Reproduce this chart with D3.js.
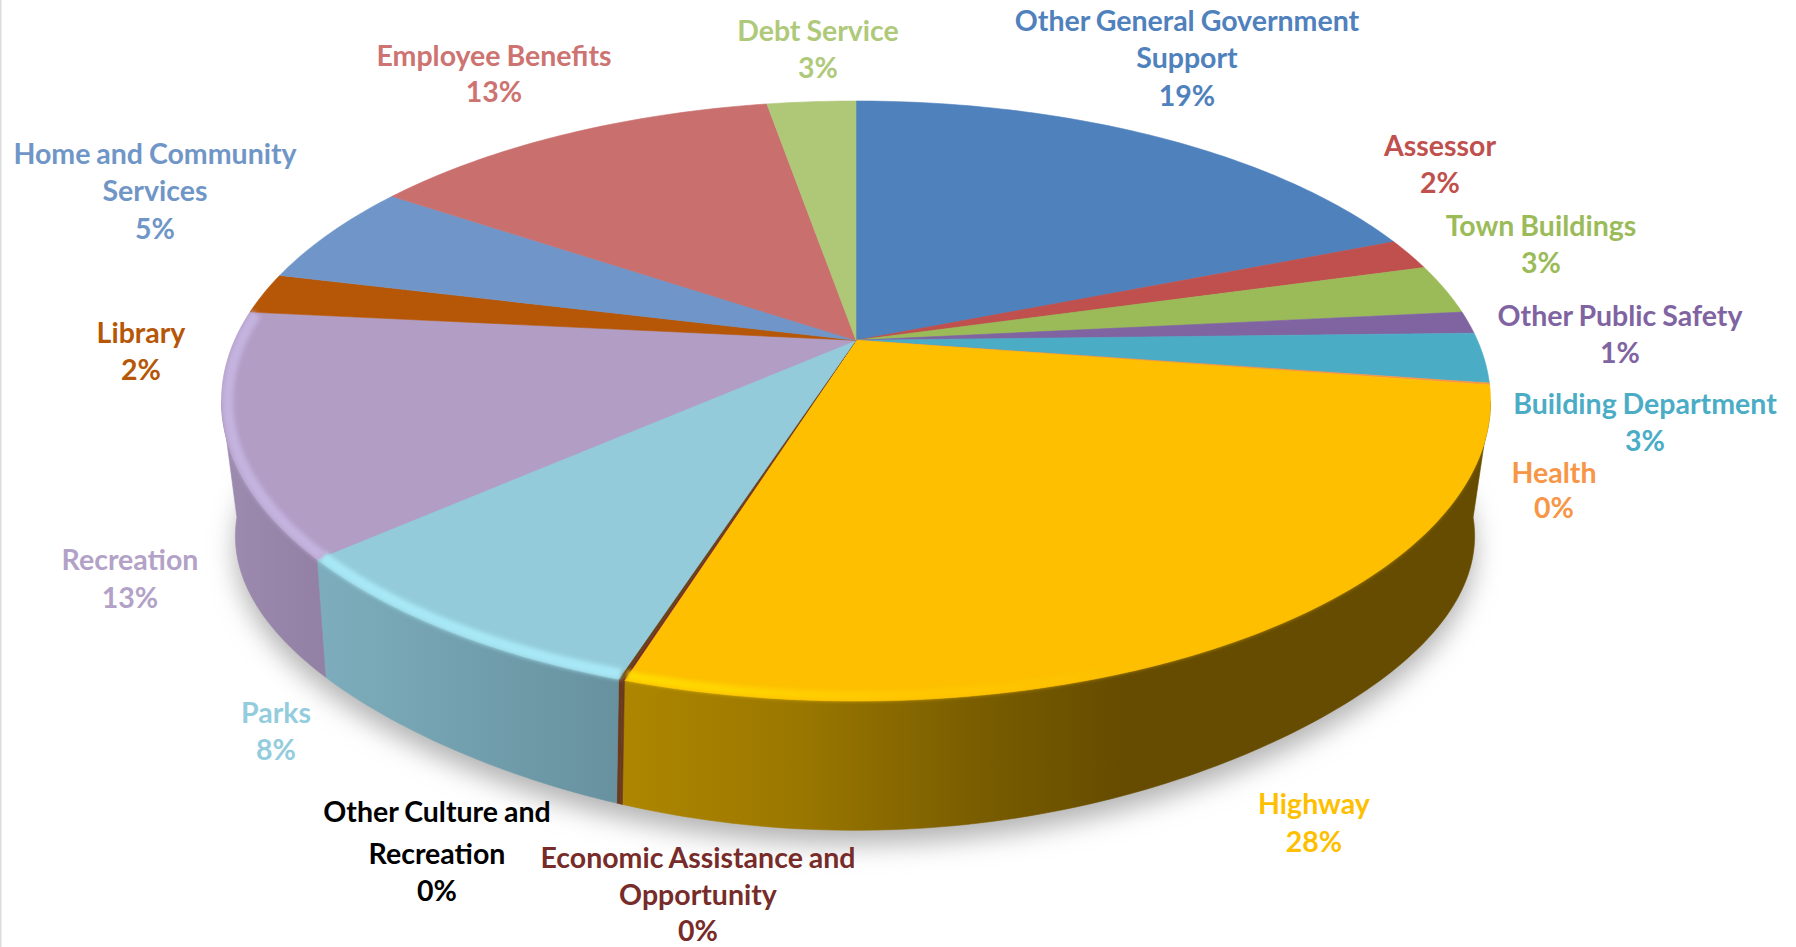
<!DOCTYPE html>
<html>
<head>
<meta charset="utf-8">
<script src="https://cdn.jsdelivr.net/npm/d3@7"></script>
<style>
html, body { margin: 0; padding: 0; background: #fff; }
svg { display: block; }
text { font-family: Lato, "Open Sans", sans-serif; font-weight: 700; }
</style>
</head>
<body>
<script>
let categories = ["Other General Government Support", "Assessor", "Town Buildings", "Other Public Safety",
    "Building Department", "Health", "Highway", "Economic Assistance and Opportunity",
    "Other Culture and Recreation", "Parks", "Recreation", "Library", "Home and Community Services",
    "Employee Benefits", "Debt Service"]
let values = [19.0, 1.7, 2.7, 1.2, 2.7, 0.1, 27.45, 0.05, 0.08, 8.55, 13.05, 2.2, 5.6, 12.85, 2.75]
let percents = ["19%", "2%", "3%", "1%", "3%", "0%", "28%", "0%", "0%", "8%", "13%", "2%", "5%", "13%", "3%"]

let labelLines = [["Other General Government", "Support"], ["Assessor"], ["Town Buildings"], ["Other Public Safety"],
    ["Building Department"], ["Health"], ["Highway"], ["Economic Assistance and", "Opportunity"],
    ["Other Culture and", "Recreation"], ["Parks"], ["Recreation"], ["Library"], ["Home and Community", "Services"],
    ["Employee Benefits"], ["Debt Service"]]

let faceColors = ["#4f81bd", "#c0504d", "#9bbb59", "#8064a2", "#4bacc6", "#f79646", "#fdbf00", "#772c2a",
    "#6b4318", "#93cbda", "#b29dc5", "#b65708", "#7096c9", "#c96f6d", "#afc878"]
let textColors = ["#4f81bd", "#c0504d", "#9bbb59", "#8064a2", "#4bacc6", "#f79646", "#fdbf00", "#772c2a",
    "#000000", "#93cddd", "#b3a2c7", "#b65708", "#7096c7", "#cd7371", "#afc97a"]

// label placement: centre x, then the y of each line's baseline
let labelX = [1187, 1440, 1541, 1620, 1645, 1554, 1314, 698, 437, 276, 130, 141, 155, 494, 818]
let labelY = [[31, 68, 106], [156, 193], [236, 273], [326, 363], [414, 451], [483, 518], [814, 852],
    [868, 905, 941], [822, 864, 901], [723, 760], [570, 608], [343, 380], [164, 201, 239], [66, 102], [41, 78]]

let width = 1796
let height = 947

// top ellipse, with the perspective of the tilted pie
let cx = 856, cy = 401, rx = 634.5, ry = 300
let persp = -0.2023, apexOffset = -60.7, depthX = 621.4
// bottom ellipse relative to the top one
let bottomScaleX = 0.9765, bottomScaleY = 0.981, bottomDrop = 135

function project(angle, sx, sy, dy) {
    let x = Math.sin(angle), y = -Math.cos(angle)
    let w = 1 + persp * y
    return [cx + sx * depthX * x / w, cy + dy + sy * (ry * y + apexOffset) / w]
}
let topRim = a => project(a, 1, 1, 0)
let bevelRim = a => project(a, 0.99, 0.982, 0)

// the lower outline is a bit tighter than an ellipse on the diagonals
function bottomRim(a) {
    let p = project(a, bottomScaleX, bottomScaleY, 0)
    let u = (p[0] - cx) / rx, v = (p[1] - cy) / ry
    let f = 1 - 0.03 * 4 * u * u * v * v
    return [cx - 1 + (p[0] - cx) * f, cy + bottomDrop + (p[1] - cy) * f]
}
// seams lean a little towards the middle on their way down
let lean = a => a + 0.046 * (a - Math.PI)

function sample(a0, a1) {
    let n = Math.max(2, Math.ceil((a1 - a0) * 60))
    return d3.range(n + 1).map(i => a0 + (a1 - a0) * i / n)
}

let line = d3.line()
let slices = d3.pie().sort(null)(values)

let svg = d3.select("body").append("svg").attr("width", width).attr("height", height)
let defs = svg.append("defs")

defs.append("filter").attr("id", "shadowBlur").attr("x", "-10%").attr("y", "-10%").attr("width", "120%").attr("height", "120%")
    .append("feGaussianBlur").attr("stdDeviation", 13)
defs.append("filter").attr("id", "bevelBlur")
    .attr("filterUnits", "userSpaceOnUse").attr("x", 0).attr("y", 0).attr("width", width).attr("height", height)
    .append("feGaussianBlur").attr("stdDeviation", 2.2)

function gradient(id, stops) {
    let g = defs.append("linearGradient").attr("id", id).attr("gradientUnits", "userSpaceOnUse")
        .attr("x1", 220).attr("x2", 1490).attr("y1", 0).attr("y2", 0)
    stops.forEach(s => g.append("stop").attr("offset", (s[0] - 220) / 1270).attr("stop-color", s[1]))
}
// side wall shading, by x on the page
gradient("wall6", [[620, "#ae8600"], [800, "#9a7700"], [960, "#7c5f00"], [1120, "#664c00"], [1490, "#664c00"]])
gradient("wall9", [[320, "#7dadbc"], [620, "#67919f"]])
gradient("wall10", [[220, "#9d8bb0"], [330, "#9180a3"]])
gradient("bevel6", [[620, "#ffdc00"], [900, "#ffc800"], [1150, "#fdbf00"], [1490, "#fdbf00"]])

// the wall runs between the two points where the rim turns back
let wallStart = 101.7 * Math.PI / 180, wallEnd = 258.3 * Math.PI / 180
let bevelEnd = 276 * Math.PI / 180

function wallPoints(a0, a1) {
    let angles = sample(a0, a1)
    return angles.map(topRim).concat(angles.slice().reverse().map(a => bottomRim(lean(a))))
}

// shadow under the pie
svg.append("path")
    .attr("d", line(sample(0, 2 * Math.PI).map(a => {
        let p = bottomRim(a)
        return [p[0], p[1] + 14]
    })) + "Z")
    .attr("fill", "#b4b4b4")
    .attr("filter", "url(#shadowBlur)")

// side walls
slices.forEach((d, i) => {
    let a0 = Math.max(d.startAngle, wallStart), a1 = Math.min(d.endAngle, wallEnd)
    if (a1 <= a0) return
    let fill = i == 6 || i == 9 || i == 10 ? "url(#wall" + i + ")" : "#6b3a1c"
    svg.append("path").attr("d", line(wallPoints(a0, a1)) + "Z").attr("fill", fill)
        .attr("stroke", fill).attr("stroke-width", 0.6)
})

// top faces
slices.forEach((d, i) => {
    let pts = [[cx, cy + apexOffset]].concat(sample(d.startAngle, d.endAngle).map(topRim))
    svg.append("path").attr("d", line(pts) + "Z").attr("fill", faceColors[i])
        .attr("stroke", faceColors[i]).attr("stroke-width", 0.6)
})

// soft bevel along the front rim, kept inside the pie's outline
let clip = defs.append("clipPath").attr("id", "pieOutline")
clip.append("path").attr("d", line(sample(0, 2 * Math.PI).map(topRim)) + "Z")
clip.append("path").attr("d", line(wallPoints(wallStart, wallEnd)) + "Z")

let bevelColors = { 6: "url(#bevel6)", 7: "#6b3a1c", 8: "#5a3a18", 9: "#a8e8f6", 10: "#c4b3df" }
let bevels = svg.append("g").attr("clip-path", "url(#pieOutline)")
Object.keys(bevelColors).forEach(k => {
    let d = slices[k]
    let a1 = Math.min(d.endAngle, bevelEnd)
    bevels.append("path").attr("d", line(sample(d.startAngle, a1).map(bevelRim)))
        .attr("fill", "none")
        .attr("stroke", bevelColors[k])
        .attr("stroke-width", k == 7 || k == 8 ? 2 : k == 6 ? 9 : 11)
        .attr("filter", "url(#bevelBlur)")
})

// faint line down the left edge of the page
svg.append("rect").attr("x", 0).attr("y", 0).attr("width", 1.5).attr("height", height).attr("fill", "#dcdcdc")

// labels
let labels = svg.selectAll("g.label").data(categories).enter().append("g").attr("class", "label")
    .attr("fill", (d, i) => textColors[i])
labels.each(function(d, i) {
    let rows = labelLines[i].concat([percents[i]])
    d3.select(this).selectAll("text").data(rows).enter().append("text")
        .attr("x", labelX[i])
        .attr("y", (r, j) => labelY[i][j])
        .attr("text-anchor", "middle")
        .attr("font-size", 28.5)
        .attr("word-spacing", -1)
        .text(r => r)
})
</script>
</body>
</html>
